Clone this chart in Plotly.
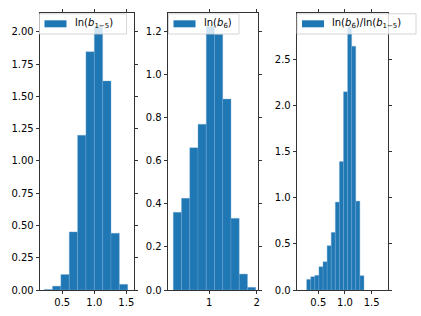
import plotly.graph_objects as go

W, H = 421, 316

# ---------------- data ----------------
# panel 1: ln(b_{1-5})
edges1_start, binw1 = 0.217, 0.1305
dens1 = [0.004, 0.03, 0.12, 0.45, 1.20, 1.847, 2.045, 1.62, 0.44, 0.044]
# panel 2: ln(b_6)
edges2_start, binw2 = 0.240, 0.1739
dens2 = [0.361, 0.426, 0.661, 0.77, 1.226, 1.188, 0.887, 0.333, 0.074, 0.0125]
# panel 3: ln(b_6)/ln(b_{1-5})
edges3_start, binw3 = 0.281, 0.0768
dens3 = [0.115, 0.144, 0.159, 0.252, 0.306, 0.48, 0.624, 0.952, 1.393,
         2.146, 2.855, 2.64, 0.963, 0.155]

labels = ["ln(<i>b</i><sub>1−5</sub>)",
          "ln(<i>b</i><sub>6</sub>)",
          "ln(<i>b</i><sub>6</sub>)/ln(<i>b</i><sub>1−5</sub>)"]

xt1 = [0.5, 1.0, 1.5]; xt1_txt = ["0.5", "1.0", "1.5"]
yt1 = [0, 0.25, 0.5, 0.75, 1.0, 1.25, 1.5, 1.75, 2.0]
yt1_txt = ["0.00", "0.25", "0.50", "0.75", "1.00", "1.25", "1.50", "1.75", "2.00"]
xt2 = [1, 2]; xt2_txt = ["1", "2"]
yt2 = [0, 0.2, 0.4, 0.6, 0.8, 1.0, 1.2]
yt2_txt = ["0.0", "0.2", "0.4", "0.6", "0.8", "1.0", "1.2"]
xt3 = [0.5, 1.0, 1.5]; xt3_txt = ["0.5", "1.0", "1.5"]
yt3 = [0, 0.5, 1.0, 1.5, 2.0, 2.5]
yt3_txt = ["0.0", "0.5", "1.0", "1.5", "2.0", "2.5"]

BLUE = "#1f77b4"
FONT = "DejaVu Sans"

def px_x(p):
    return p / W

def px_y(p):
    return 1 - p / H

panels = [
    dict(start=edges1_start, w=binw1, d=dens1, xdom=(40, 134), xr=[0.152, 1.62], yr=[0, 2.147],
         xt=xt1, xtt=xt1_txt, yt=yt1, ytt=yt1_txt, leg=(39.5, 126.5)),
    dict(start=edges2_start, w=binw2, d=dens2, xdom=(168, 258), xr=[0.129, 2.027], yr=[0, 1.287],
         xt=xt2, xtt=xt2_txt, yt=yt2, ytt=yt2_txt, leg=(168.5, 239)),
    dict(start=edges3_start, w=binw3, d=dens3, xdom=(297, 388), xr=[0.10, 1.807], yr=[0, 3.0],
         xt=xt3, xtt=xt3_txt, yt=yt3, ytt=yt3_txt, leg=(297, 416)),
]

fig = go.Figure()
shapes = []
annotations = []
ytop, ybot = 13, 290

for i, p in enumerate(panels):
    n = i + 1
    sfx = "" if n == 1 else str(n)
    centers = [p["start"] + (k + 0.5) * p["w"] for k in range(len(p["d"]))]
    fig.add_trace(go.Bar(
        x=centers, y=p["d"], width=[p["w"]] * len(p["d"]),
        marker=dict(color=BLUE, line=dict(color="rgba(120,170,215,0.9)", width=0.4)),
        xaxis="x" + sfx, yaxis="y" + sfx, showlegend=False, name=labels[i],
    ))
    axstyle = dict(showline=True, linecolor="black", linewidth=0.8, mirror="ticks",
                   ticks="outside", ticklen=3.5, tickwidth=0.8, tickcolor="black",
                   showgrid=False, zeroline=False, automargin=False,
                   tickfont=dict(family=FONT, size=10, color="black"))
    fig.update_layout(**{
        "xaxis" + sfx: dict(domain=[px_x(p["xdom"][0]), px_x(p["xdom"][1])], range=p["xr"],
                            anchor="y" + sfx, tickvals=p["xt"], ticktext=p["xtt"], **axstyle),
        "yaxis" + sfx: dict(domain=[px_y(ybot), px_y(ytop)], range=p["yr"],
                            anchor="x" + sfx, tickvals=p["yt"], ticktext=p["ytt"], **axstyle),
    })
    # legend box
    l0, l1 = p["leg"]
    shapes.append(dict(type="rect", xref="paper", yref="paper", layer="above",
                       x0=px_x(l0), x1=px_x(l1), y0=px_y(34), y1=px_y(13.8),
                       fillcolor="rgba(255,255,255,0.8)", line=dict(color="#cccccc", width=0.8)))
    shapes.append(dict(type="rect", xref="paper", yref="paper", layer="above",
                       x0=px_x(l0 + 5), x1=px_x(l0 + 27), y0=px_y(27.3), y1=px_y(20.3),
                       fillcolor=BLUE, line=dict(width=0)))
    annotations.append(dict(xref="paper", yref="paper", x=px_x(l0 + 34), y=px_y(23.5),
                            xanchor="left", yanchor="middle", showarrow=False,
                            text=labels[i], font=dict(family=FONT, size=10, color="black"),
                            borderpad=0))

fig.update_layout(
    width=W, height=H, margin=dict(l=0, r=0, t=0, b=0),
    paper_bgcolor="white", plot_bgcolor="white", bargap=0,
    shapes=shapes, annotations=annotations,
    font=dict(family=FONT, size=10, color="black"),
)

fig.write_html("out.html", config={"displayModeBar": False, "staticPlot": True},
               post_script="document.body.style.margin='0';document.body.style.overflow='hidden';")
